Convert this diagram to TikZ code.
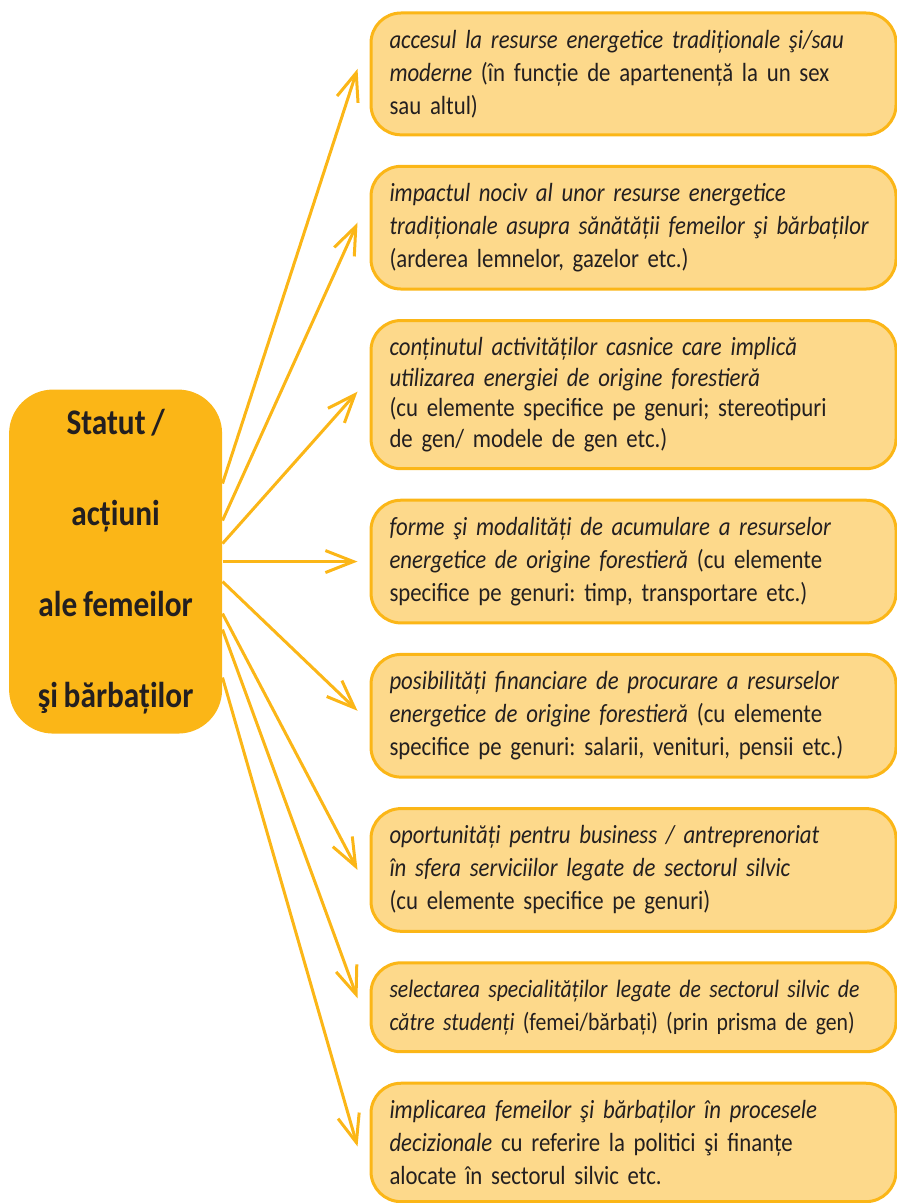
\documentclass[tikz,border=0pt]{standalone}
\usepackage{fontspec}
\setmainfont{Carlito}[FakeStretch=0.87,WordSpace=0.8]
\frenchspacing
\usetikzlibrary{shapes,arrows.meta,positioning}
\definecolor{hubfill}{HTML}{FBB617}
\definecolor{blockfill}{HTML}{FDD98B}
\definecolor{blockline}{HTML}{FBB617}
\definecolor{ink}{HTML}{231F20}
\tikzstyle{hub} = [rectangle,rounded corners=22pt,fill=hubfill,minimum width=106.5pt,
  minimum height=172pt,align=center,text=ink,font=\fontsize{18}{45.5}\selectfont\bfseries]
\tikzstyle{block} = [rectangle,rounded corners=15pt,draw=blockline,line width=1.5pt,
  fill=blockfill,text width=244pt,inner xsep=9.25pt,inner ysep=8.5pt,align=left,text=ink,
  font=\fontsize{13.1}{16.5}\selectfont]
\tikzstyle{line} = [draw,blockline,line width=1.5pt,
  -{Straight Barb[length=14pt,width=11pt]}]

\begin{document}
\begin{tikzpicture}[node distance = 14.25pt]
\useasboundingbox (0,0) rectangle (448.5pt,-601.5pt);

\node [block, anchor=north west] at (184.75pt,-5.75pt) (access) {\textit{accesul la resurse energetice tradiționale şi/sau}\\ \textit{moderne} (în funcție de apartenență la un sex\\ sau altul)};
\node [block, below=of access] (harm) {\textit{impactul nociv al unor resurse energetice}\\ \textit{tradiționale asupra sănătății femeilor şi bărbaților}\\ (arderea lemnelor, gazelor etc.)};
\node [block, below=of harm, font=\fontsize{13.1}{15.25}\selectfont] (chores) {\textit{conținutul activităților casnice care implică}\\ \textit{utilizarea energiei de origine forestieră}\\ (cu elemente specifice pe genuri; stereotipuri\\ de gen/ modele de gen etc.)};
\node [block, below=of chores] (forms) {\textit{forme şi modalități de acumulare a resurselor}\\ \textit{energetice de origine forestieră} (cu elemente\\ specifice pe genuri: timp, transportare etc.)};
\node [block, below=of forms] (funds) {\textit{posibilități financiare de procurare a resurselor}\\ \textit{energetice de origine forestieră} (cu elemente\\ specifice pe genuri: salarii, venituri, pensii etc.)};
\node [block, below=of funds] (business) {\textit{oportunități pentru business / antreprenoriat}\\ \textit{în sfera serviciilor legate de sectorul silvic}\\ (cu elemente specifice pe genuri)};
\node [block, below=of business, font=\fontsize{12.5}{16.5}\selectfont] (studies) {\textit{selectarea specialităților legate de sectorul silvic de}\\ \textit{către studenți} (femei/bărbați) (prin prisma de gen)};
\node [block, below=of studies] (decisions) {\textit{implicarea femeilor şi bărbaților în procesele}\\ \textit{decizionale} cu referire la politici şi finanțe\\ alocate în sectorul silvic etc.};

\node [hub, left=73.5pt of forms] (status) {Statut /\\ acțiuni\\ ale femeilor\\ şi bărbaților};

\path [line] ([yshift=39pt]status.east) -- ([xshift=-6pt,yshift=2.5pt]access.west);
\path [line] ([yshift=20.5pt]status.east) -- ([xshift=-6pt,yshift=2.5pt]harm.west);
\path [line] ([yshift=9pt]status.east) -- ([xshift=-6pt,yshift=1.5pt]chores.west);
\path [line] (status.east) -- ([xshift=-6pt]forms.west);
\path [line] ([yshift=-10pt]status.east) -- ([xshift=-6pt,yshift=2.5pt]funds.west);
\path [line] ([yshift=-26pt]status.east) -- ([xshift=-6pt]business.west);
\path [line] ([yshift=-34pt]status.east) -- ([xshift=-6pt,yshift=4.5pt]studies.west);
\path [line] ([yshift=-58pt]status.east) -- ([xshift=-6pt,yshift=-2pt]decisions.west);

\end{tikzpicture}
\end{document}
